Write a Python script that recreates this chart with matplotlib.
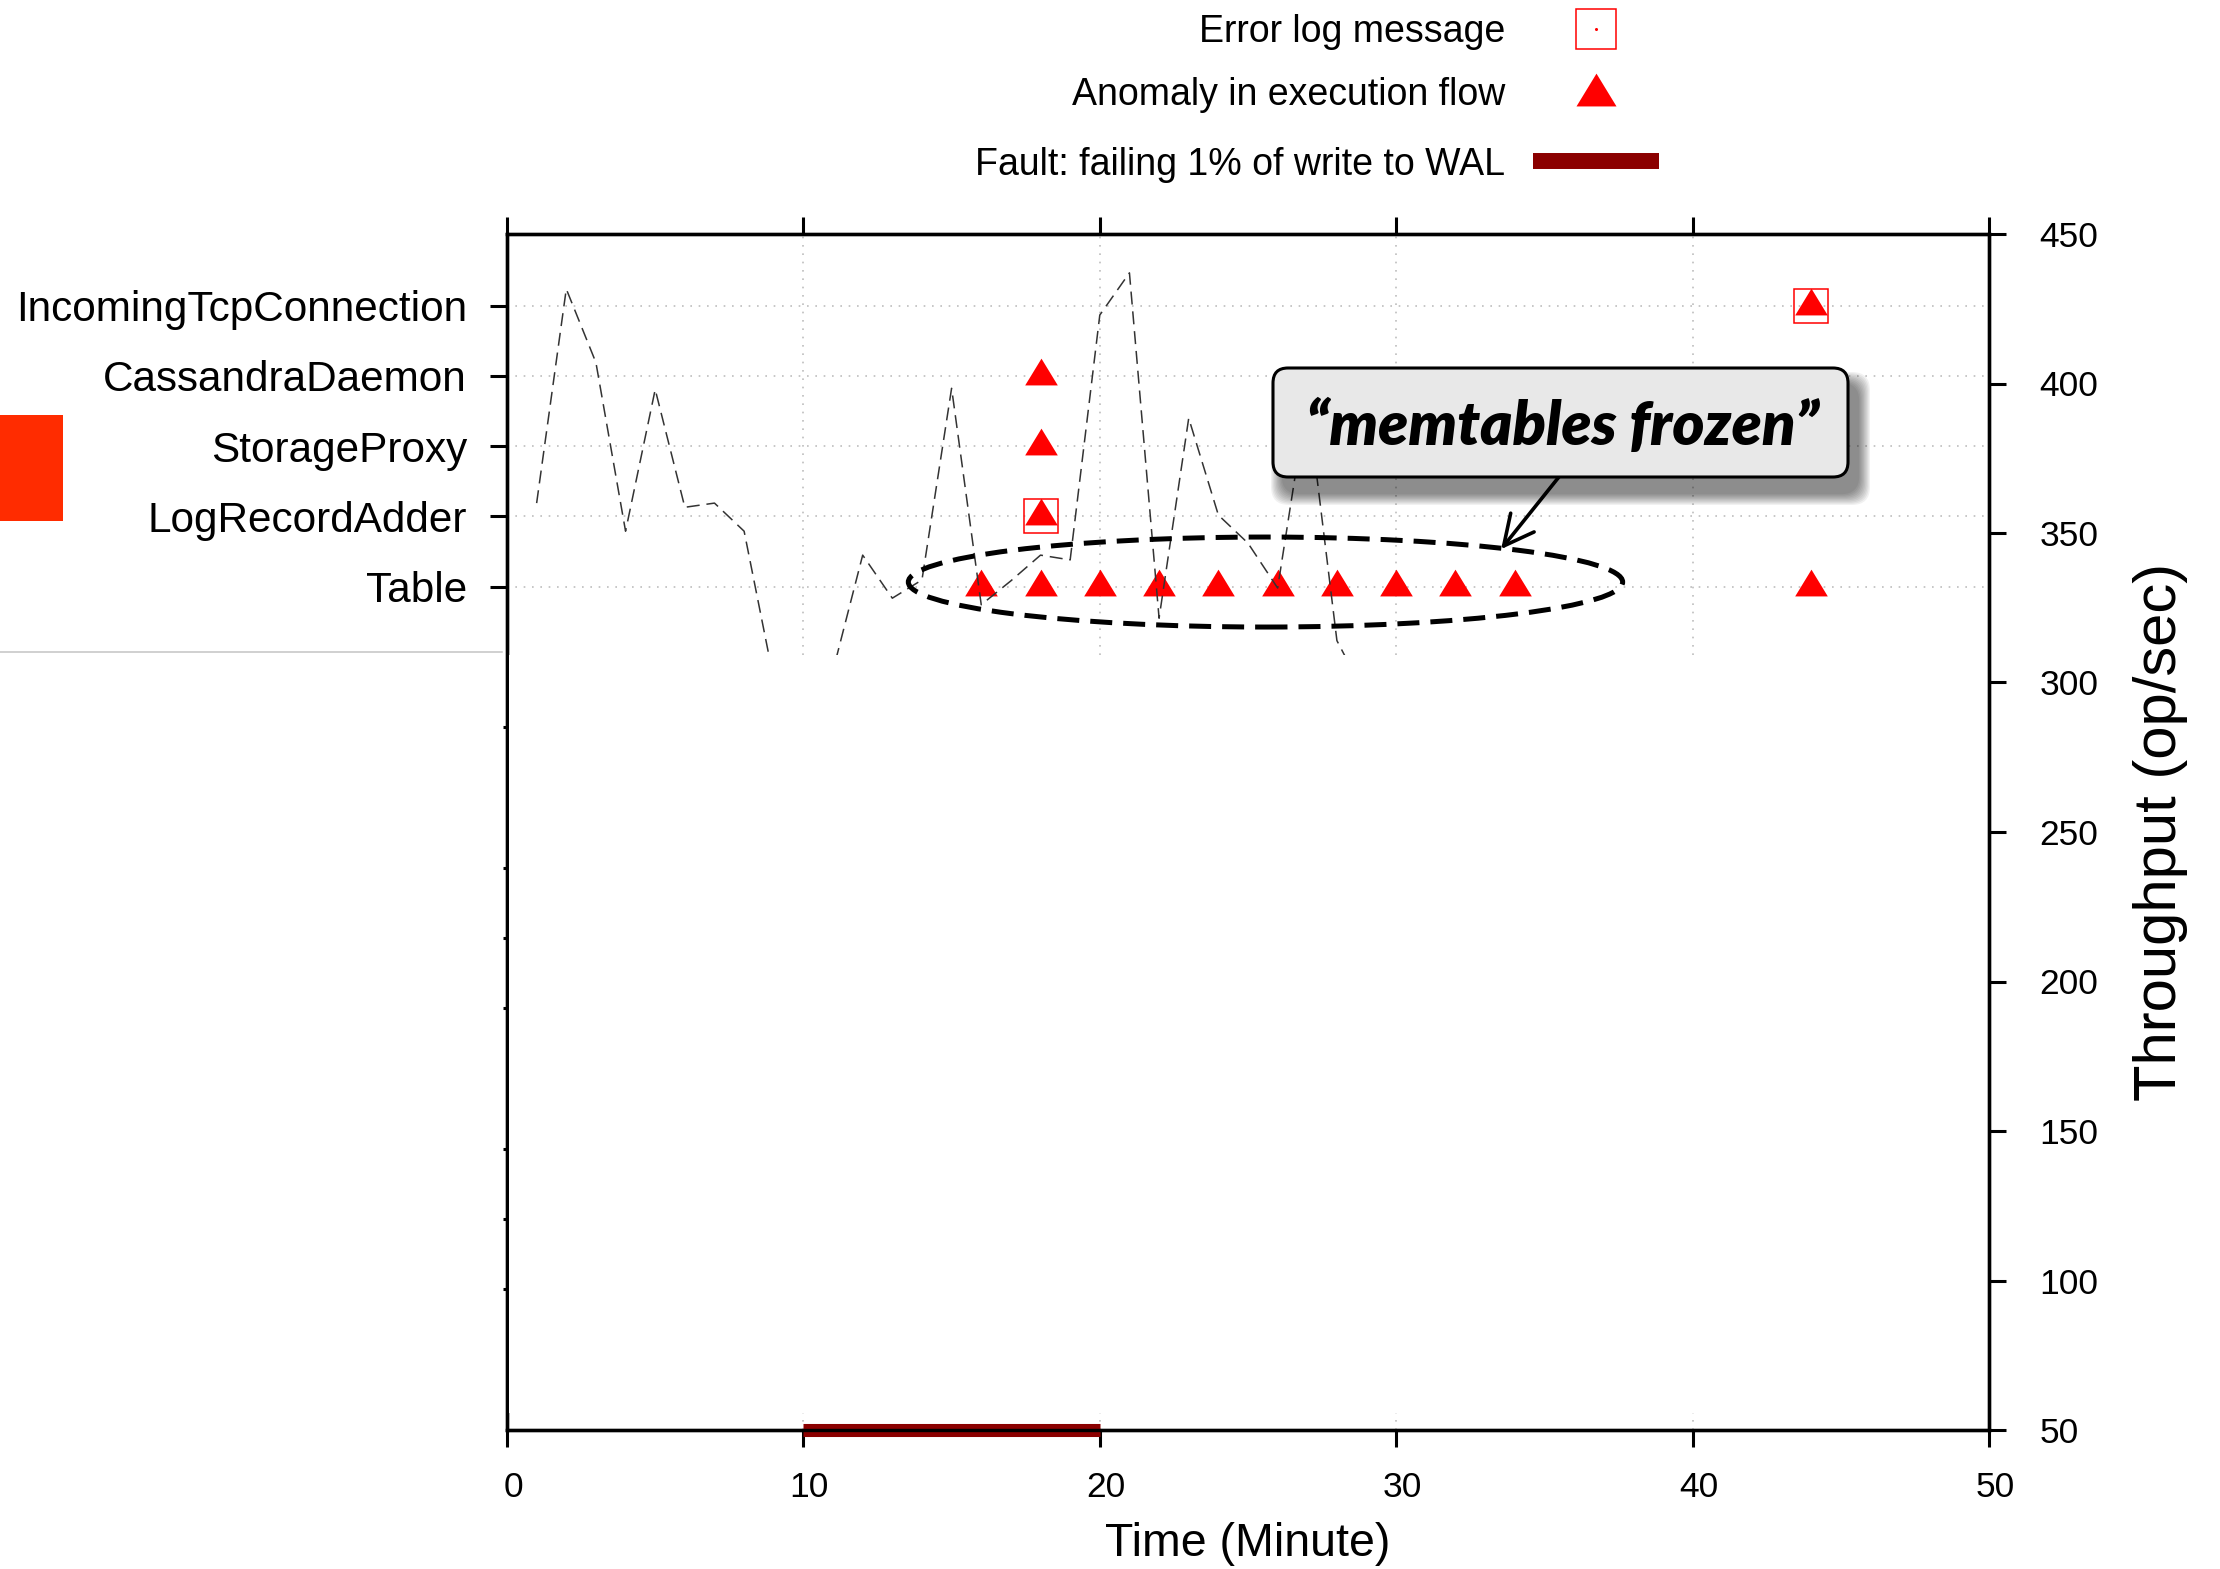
import matplotlib
matplotlib.use('Agg')
import matplotlib.pyplot as plt
import matplotlib.transforms as mtransforms
from matplotlib.patches import Ellipse, Rectangle, FancyBboxPatch

plt.rcParams['font.family'] = ['Liberation Sans', 'DejaVu Sans']

# --- data -------------------------------------------------------------
components = ['Table', 'LogRecordAdder', 'StorageProxy',
              'CassandraDaemon', 'IncomingTcpConnection']
hidden_rows = [-2, -4, -5, -6, -8, -9, -10]

minutes = [1, 2, 3, 4, 5, 6, 7, 8, 9, 10, 11, 12, 13, 14, 15,
           16, 17, 18, 19, 20, 21, 22, 23, 24, 25, 26, 27, 28, 29]
throughput = [360, 431.6, 407, 350.6, 398, 358.6, 360, 350.6, 301, 280, 304,
              342.6, 328.2, 334.3, 398.4, 326, 334, 342.6, 341, 422.9, 437,
              321.5, 388.4, 356, 346.6, 331.6, 395, 314, 295]

anomaly_minute = [16, 18, 20, 22, 24, 26, 28, 30, 32, 34, 44, 18, 18, 18, 44]
anomaly_comp = ['Table'] * 11 + ['LogRecordAdder', 'StorageProxy',
                                 'CassandraDaemon', 'IncomingTcpConnection']
error_minute = [18, 44]
error_comp = ['LogRecordAdder', 'IncomingTcpConnection']
fault_start, fault_end = 10, 20
fault_level = 50

legend_labels = ['Error log message', 'Anomaly in execution flow',
                 'Fault: failing 1% of write to WAL']
callout_text = '\u201cmemtables frozen\u201d'

# --- figure -----------------------------------------------------------
W, H = 2220, 1569
fig = plt.figure(figsize=(W / 100, H / 100), dpi=100)
ax = fig.add_axes([507 / W, 1 - 1430 / H, (1989 - 507) / W, (1430 - 234) / H])
ax2 = ax.twinx()

red = '#ff0000'
tri = [(-1, -0.547), (1, -0.547), (0, 1.093)]   # centroid at origin
row = {c: i for i, c in enumerate(components)}

ax.plot(anomaly_minute, [row[c] for c in anomaly_comp], linestyle='none',
        marker=tri, markersize=25.7, color=red, markeredgewidth=0, zorder=3)
ax.plot(error_minute, [row[c] for c in error_comp], linestyle='none',
        marker='s', markersize=23.8, markerfacecolor='none',
        markeredgecolor=red, markeredgewidth=1.1, zorder=4)

ax.set_xlim(0, 50)
ax.set_ylim(-12, 5.02)
ax.set_yticks(range(len(components)))
ax.set_yticklabels(components, fontsize=30.4)
ax.set_yticks(hidden_rows, minor=True)
ax.set_xticks(range(0, 51, 10))
ax.tick_params(axis='x', which='major', top=True, direction='out',
               length=12.2, width=2.2, labelsize=25.5, pad=17)
ax.tick_params(axis='y', which='major', direction='out', length=12.2,
               width=2.2, pad=16.6)
ax.tick_params(axis='y', which='minor', direction='out', length=3.1, width=2.2)
ax.grid(True, which='major', linestyle=(0, (1, 4)), color='#bdbdbd', lw=1.2)
shift = mtransforms.ScaledTranslation(6 / 100, 0, fig.dpi_scale_trans)
for lab in ax.get_xticklabels():
    lab.set_transform(lab.get_transform() + shift)

# throughput on the right axis
ax2.plot(minutes, throughput, color='#333333', lw=1.1,
         linestyle=(0, (8.5, 4.5)), zorder=5)
ax2.plot([fault_start, fault_end], [fault_level, fault_level],
         color='#8b0000', lw=9.4, solid_capstyle='butt', clip_on=False, zorder=2)
ax2.set_ylim(50, 450)
ax2.set_yticks(range(50, 451, 50))
ax2.tick_params(axis='y', direction='out', length=12.2, width=2.2,
                labelsize=25.5, pad=24)
for a in (ax, ax2):
    for s in a.spines.values():
        s.set_linewidth(2.4)

ax.set_xlabel('Time (Minute)', fontsize=33.5)
ax.xaxis.set_label_coords(0.5, -(1544 - 1430) / 1196)
ax.xaxis.label.set_va('center')
ax2.set_ylabel('Throughput (op/sec)', fontsize=43)
ax2.yaxis.set_label_coords((2160 - 507) / 1482, 0.5)
ax2.yaxis.label.set_va('center')

# dashed ellipse round the frozen-memtable anomalies + arrow from callout
ax2.add_patch(Ellipse((25.59, 333.6), 24.1, 30.1, fill=False, ec='black',
                      lw=3.6, linestyle=(0, (4.4, 2.2)), zorder=6))
ax2.annotate('', xy=(33.54, 344.6), xytext=(35.55, 369.5),
             arrowprops=dict(arrowstyle='->,head_length=0.9,head_width=0.45',
                             lw=2.6, color='black', mutation_scale=24,
                             shrinkA=0, shrinkB=0), zorder=7)

# --- overlay in pixel space ------------------------------------------
over = fig.add_axes([0, 0, 1, 1])
over.set_xlim(0, W)
over.set_ylim(H, 0)
over.axis('off')
over.set_zorder(5)

# blank region pasted over the lower plot
over.add_patch(Rectangle((509, 655), 1984 - 509, 1413 - 655,
                         facecolor='white', edgecolor='none'))
over.add_patch(Rectangle((0, 415), 63, 106, facecolor='#ff2c00',
                         edgecolor='none'))
over.plot([0, 502], [651.5, 651.5], color='#c4c4c4', lw=1.1)

# callout box with soft shadow
for k in range(10):
    grow = 24 - 2.4 * k
    over.add_patch(FancyBboxPatch((1273 + 10 - grow / 2, 368 + 16 - grow / 2),
                                  575 + grow, 109 + grow,
                                  boxstyle='round,pad=0,rounding_size=18',
                                  facecolor='black', edgecolor='none',
                                  alpha=0.055))
over.add_patch(FancyBboxPatch((1273, 368), 575, 109,
                              boxstyle='round,pad=0,rounding_size=15',
                              facecolor='#e8e8e8', edgecolor='black', lw=2.2))
over.text(1562, 445, callout_text, fontsize=44, fontstyle='italic',
          fontweight='heavy', family=['Lato', 'DejaVu Sans'],
          ha='center', va='baseline')

# legend
for lab, yb in zip(legend_labels, [41.7, 105, 175]):
    over.text(1505, yb, lab, fontsize=27, ha='right', va='baseline')
over.plot([1596], [29], marker='s', markersize=28.8, markerfacecolor='none',
          markeredgecolor=red, markeredgewidth=1.1)
over.plot([1596], [29], marker='o', markersize=1.2, color=red)
over.plot([1596], [94.7], marker=tri, markersize=31.5, color=red,
          markeredgewidth=0)
over.plot([1533, 1659], [161, 161], color='#8b0000', lw=11.5,
          solid_capstyle='butt')

fig.savefig('out.png', dpi=100)
